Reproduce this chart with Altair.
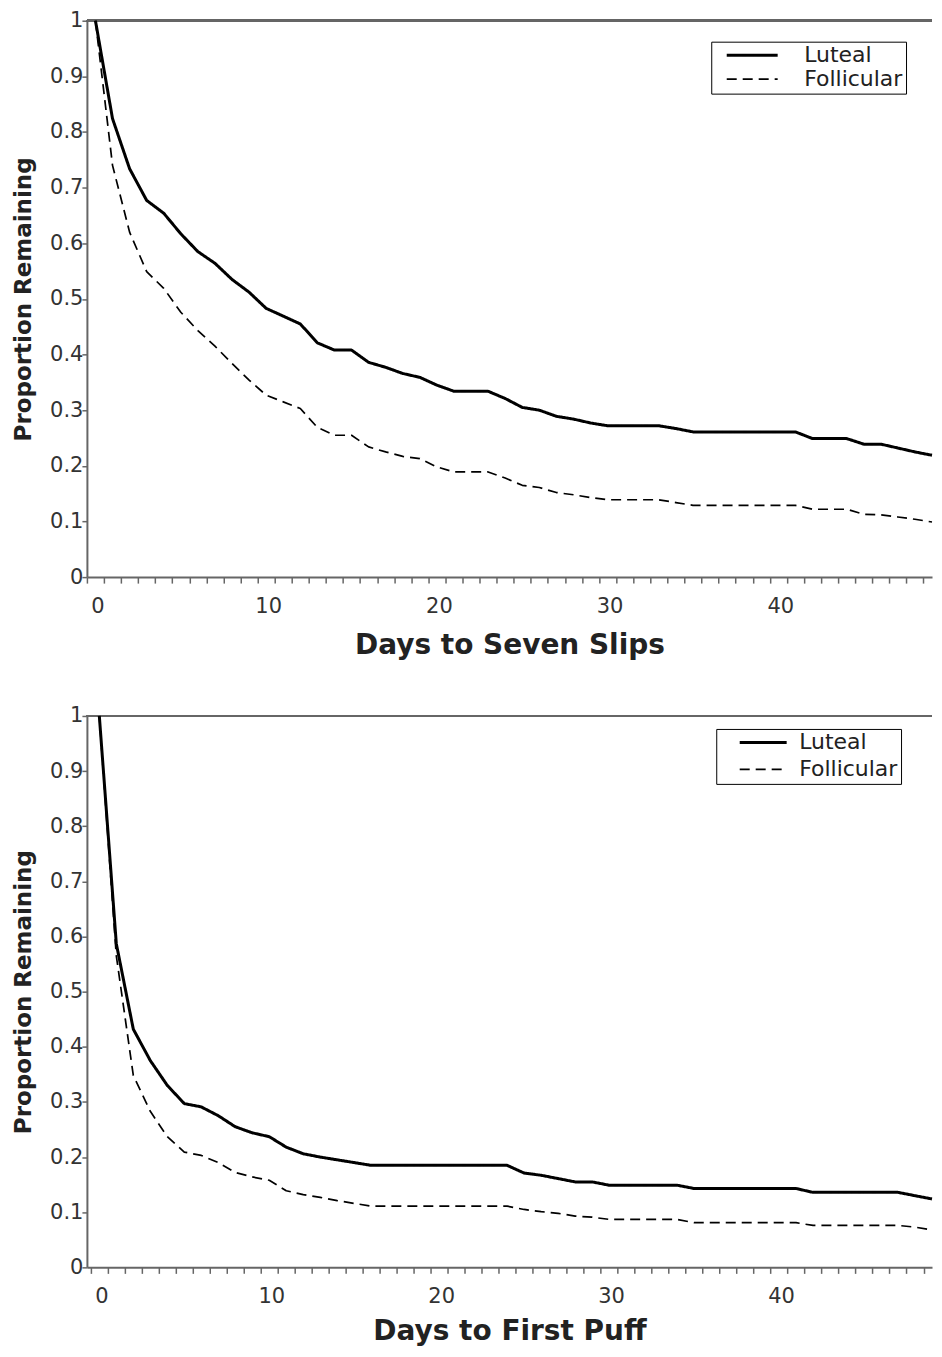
import altair as alt
import pandas as pd

# ---- data ----
days = list(range(50))
phases = ["Luteal", "Follicular"]
y_ticks = [0, 0.1, 0.2, 0.3, 0.4, 0.5, 0.6, 0.7, 0.8, 0.9, 1]

# Panel 1: Days to Seven Slips
slips_luteal = [1.0, 0.824, 0.734, 0.677, 0.654, 0.617, 0.585, 0.564, 0.535, 0.512,
                0.483, 0.469, 0.455, 0.421, 0.408, 0.408, 0.386, 0.377, 0.366, 0.359,
                0.345, 0.334, 0.334, 0.334, 0.321, 0.305, 0.300, 0.289, 0.284, 0.277,
                0.272, 0.272, 0.272, 0.272, 0.267, 0.261, 0.261, 0.261, 0.261, 0.261,
                0.261, 0.261, 0.249, 0.249, 0.249, 0.239, 0.239, 0.232, 0.225, 0.219]
slips_follicular = [1.0, 0.74, 0.62, 0.549, 0.519, 0.476, 0.443, 0.415, 0.384, 0.354,
                    0.327, 0.315, 0.303, 0.269, 0.255, 0.255, 0.234, 0.225, 0.217, 0.213,
                    0.198, 0.189, 0.189, 0.189, 0.178, 0.165, 0.161, 0.152, 0.148, 0.143,
                    0.139, 0.139, 0.139, 0.139, 0.134, 0.129, 0.129, 0.129, 0.129, 0.129,
                    0.129, 0.129, 0.122, 0.122, 0.122, 0.113, 0.112, 0.108, 0.104, 0.099]

# Panel 2: Days to First Puff
puff_luteal = [1.0, 0.587, 0.432, 0.375, 0.330, 0.297, 0.291, 0.275, 0.255, 0.244,
               0.237, 0.218, 0.206, 0.200, 0.195, 0.190, 0.185, 0.185, 0.185, 0.185,
               0.185, 0.185, 0.185, 0.185, 0.185, 0.171, 0.167, 0.161, 0.155, 0.155,
               0.149, 0.149, 0.149, 0.149, 0.149, 0.143, 0.143, 0.143, 0.143, 0.143,
               0.143, 0.143, 0.136, 0.136, 0.136, 0.136, 0.136, 0.136, 0.130, 0.124]
puff_follicular = [1.0, 0.565, 0.348, 0.283, 0.237, 0.209, 0.203, 0.190, 0.172, 0.164,
                   0.158, 0.139, 0.132, 0.127, 0.121, 0.116, 0.111, 0.111, 0.111, 0.111,
                   0.111, 0.111, 0.111, 0.111, 0.111, 0.105, 0.101, 0.098, 0.093, 0.091,
                   0.087, 0.087, 0.087, 0.087, 0.087, 0.081, 0.081, 0.081, 0.081, 0.081,
                   0.081, 0.081, 0.076, 0.076, 0.076, 0.076, 0.076, 0.076, 0.073, 0.068]

FONT = "DejaVu Sans"
AXIS_GRAY = "#666666"


def panel(lut, fol, xtitle, width, height, xdom, half, leg, xtitlepad):
    df = pd.DataFrame({
        "Day": days + days,
        "Proportion": lut + fol,
        "Phase": ["Luteal"] * len(lut) + ["Follicular"] * len(fol),
    })
    legend = alt.Legend(
        orient="none", legendX=leg["x"], legendY=leg["y"], title=None,
        strokeColor="black", fillColor="white", padding=3,
        symbolType="stroke", symbolSize=leg["size"], symbolOffset=leg["symoff"],
        symbolStrokeColor="black", labelOffset=leg["laboff"], clipHeight=21,
        labelFont=FONT, labelFontSize=22, labelColor="#222222", rowPadding=leg["rowpad"],
    )
    x = alt.X(
        "Day:Q",
        scale=alt.Scale(domain=xdom, nice=False, zero=False),
        axis=alt.Axis(
            values=days, tickOffset=-half, labelOffset=half + 2,
            labelExpr="datum.value % 10 === 0 ? datum.label : ''",
            labelOverlap=False, labelFlush=False, grid=False,
            tickSize=6, tickColor=AXIS_GRAY, tickWidth=1.5,
            domainColor=AXIS_GRAY, domainWidth=2,
            labelFont=FONT, labelFontSize=21, labelColor="#333333", labelPadding=12,
            title=xtitle, titleFont=FONT, titleFontSize=28, titleFontWeight="bold",
            titleColor="#222222", titlePadding=xtitlepad,
        ),
    )
    y = alt.Y(
        "Proportion:Q",
        scale=alt.Scale(domain=[0, 1], nice=False),
        axis=alt.Axis(
            values=y_ticks, format=".1~f", grid=False,
            labelOverlap=False, labelFlush=False,
            tickSize=5, tickColor=AXIS_GRAY, tickWidth=1.5,
            domainColor=AXIS_GRAY, domainWidth=2,
            labelFont=FONT, labelFontSize=21, labelColor="#333333", labelPadding=-1,
            title="Proportion Remaining", titleFont=FONT, titleFontSize=23,
            titleFontWeight="bold", titleColor="#222222", titlePadding=14,
        ),
    )
    lines = alt.Chart(df).mark_line(color="black", strokeCap="butt", strokeJoin="round").encode(
        x=x,
        y=y,
        strokeDash=alt.StrokeDash(
            "Phase:N", sort=phases,
            scale=alt.Scale(domain=phases, range=[[1, 0], [10, 6]]),
            legend=legend,
        ),
        strokeWidth=alt.StrokeWidth(
            "Phase:N", sort=phases,
            scale=alt.Scale(domain=phases, range=[3, 1.7]),
            legend=legend,
        ),
    )
    frame_top = alt.Chart(df).mark_rule(color=AXIS_GRAY, strokeWidth=2).encode(
        y=alt.datum(1)
    )
    return alt.layer(frame_top, lines).properties(width=width, height=height)


top = panel(slips_luteal, slips_follicular, "Days to Seven Slips",
            width=846, height=557, xdom=[-0.5, 49.0], half=8.55,
            leg={"x": 625, "y": 21, "size": 2601, "symoff": 11, "laboff": 25, "rowpad": 1},
            xtitlepad=15)
bottom = panel(puff_luteal, puff_follicular, "Days to First Puff",
               width=846, height=552, xdom=[-0.73, 49.0], half=8.5,
               leg={"x": 630, "y": 13, "size": 2209, "symoff": 19, "laboff": 11, "rowpad": 4},
               xtitlepad=11)

chart = alt.vconcat(top, bottom, spacing=46).properties(
    padding={"left": 4, "top": 1, "right": 0, "bottom": 0}
).resolve_scale(
    strokeDash="independent", strokeWidth="independent"
).resolve_legend(
    strokeDash="independent", strokeWidth="independent"
).configure_view(stroke=None)

chart.save("out.html", embed_options={"renderer": "svg", "actions": False})
